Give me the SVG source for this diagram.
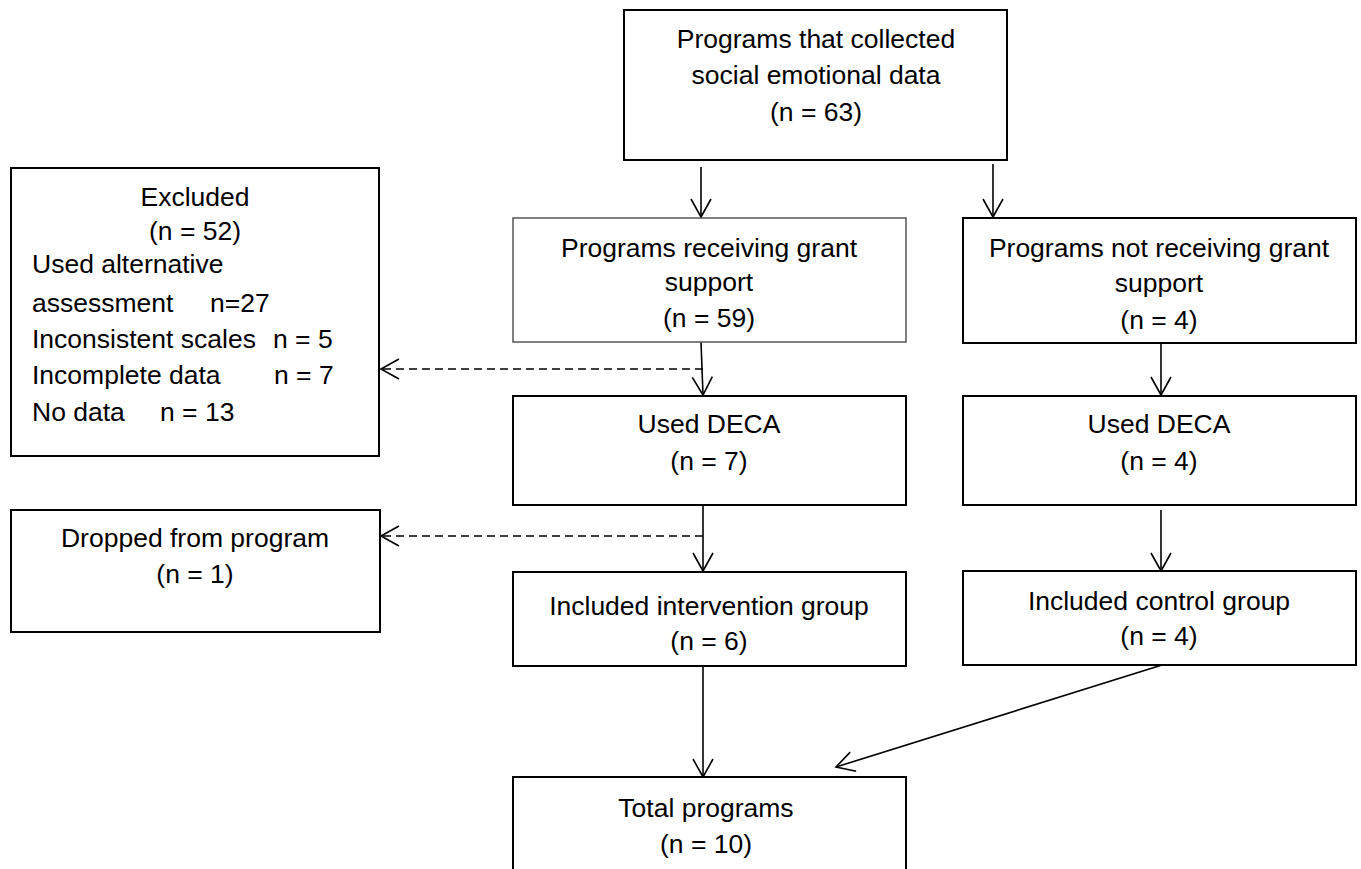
<svg xmlns="http://www.w3.org/2000/svg" width="1361" height="869" viewBox="0 0 1361 869">
<style>
text{font-family:"Liberation Sans",Arial,sans-serif;font-size:26.5px;fill:#000}
.c{text-anchor:middle}
.box{fill:#fff;stroke:#000;stroke-width:2}
.thin{stroke:#555;stroke-width:1.5}
.ln{fill:none;stroke:#000;stroke-width:1.6}
.dash{stroke-dasharray:8 5}
</style>
<defs>
<marker id="ah" markerUnits="userSpaceOnUse" viewBox="0 0 22 22" markerWidth="22" markerHeight="22" refX="20" refY="11" orient="auto">
<path d="M2,1 L20,11 L2,21" fill="none" stroke="#000" stroke-width="1.6"/>
</marker>
</defs>
<rect width="1361" height="869" fill="#fff"/>
<g id="connectors">
<line class="ln" x1="701" y1="167" x2="701" y2="217" marker-end="url(#ah)"/>
<line class="ln" x1="993" y1="164" x2="993" y2="217" marker-end="url(#ah)"/>
<line class="ln" x1="701" y1="342" x2="703" y2="395" marker-end="url(#ah)"/>
<line class="ln dash" x1="703" y1="369" x2="381" y2="369" marker-end="url(#ah)"/>
<line class="ln" x1="1161" y1="344" x2="1161" y2="395" marker-end="url(#ah)"/>
<line class="ln" x1="703" y1="505" x2="703" y2="571" marker-end="url(#ah)"/>
<line class="ln dash" x1="703" y1="536" x2="381" y2="536" marker-end="url(#ah)"/>
<line class="ln" x1="1161" y1="510" x2="1161" y2="571" marker-end="url(#ah)"/>
<line class="ln" x1="703" y1="666" x2="703" y2="777" marker-end="url(#ah)"/>
<line class="ln" x1="1162" y1="665" x2="836" y2="767" marker-end="url(#ah)"/>
</g>
<g id="node-collected">
<rect class="box" x="624" y="10" width="383" height="150"/>
<text class="c" x="816" y="48">Programs that collected</text>
<text class="c" x="816" y="84">social emotional data</text>
<text class="c" x="816" y="121">(n = 63)</text>
</g>
<g id="node-excluded">
<rect class="box" x="11" y="168" width="368" height="288"/>
<text class="c" x="195" y="206">Excluded</text>
<text class="c" x="195" y="240">(n = 52)</text>
<text x="32" y="273">Used alternative</text>
<text x="32" y="312">assessment</text>
<text x="210" y="312">n=27</text>
<text x="32" y="348">Inconsistent scales</text>
<text x="273" y="348">n = 5</text>
<text x="32" y="384">Incomplete data</text>
<text x="274" y="384">n = 7</text>
<text x="32" y="421">No data</text>
<text x="160" y="421">n = 13</text>
</g>
<g id="node-grant">
<rect class="box thin" x="513" y="218" width="393" height="124"/>
<text class="c" x="709" y="257">Programs receiving grant</text>
<text class="c" x="709" y="291">support</text>
<text class="c" x="709" y="327">(n = 59)</text>
</g>
<g id="node-nogrant">
<rect class="box" x="963" y="218" width="393" height="125"/>
<text class="c" x="1159" y="257">Programs not receiving grant</text>
<text class="c" x="1159" y="292">support</text>
<text class="c" x="1159" y="329">(n = 4)</text>
</g>
<g id="node-deca-left">
<rect class="box" x="513" y="396" width="393" height="109"/>
<text class="c" x="709" y="433">Used DECA</text>
<text class="c" x="709" y="470">(n = 7)</text>
</g>
<g id="node-deca-right">
<rect class="box" x="963" y="396" width="393" height="109"/>
<text class="c" x="1159" y="433">Used DECA</text>
<text class="c" x="1159" y="470">(n = 4)</text>
</g>
<g id="node-dropped">
<rect class="box" x="11" y="510" width="369" height="122"/>
<text class="c" x="195" y="547">Dropped from program</text>
<text class="c" x="195" y="583">(n = 1)</text>
</g>
<g id="node-intervention">
<rect class="box" x="513" y="572" width="393" height="94"/>
<text class="c" x="709" y="615">Included intervention group</text>
<text class="c" x="709" y="650">(n = 6)</text>
</g>
<g id="node-control">
<rect class="box" x="963" y="571" width="393" height="94"/>
<text class="c" x="1159" y="610">Included control group</text>
<text class="c" x="1159" y="645">(n = 4)</text>
</g>
<g id="node-total">
<rect class="box" x="513" y="777" width="393" height="110"/>
<text class="c" x="706" y="817">Total programs</text>
<text class="c" x="706" y="853">(n = 10)</text>
</g>
</svg>
